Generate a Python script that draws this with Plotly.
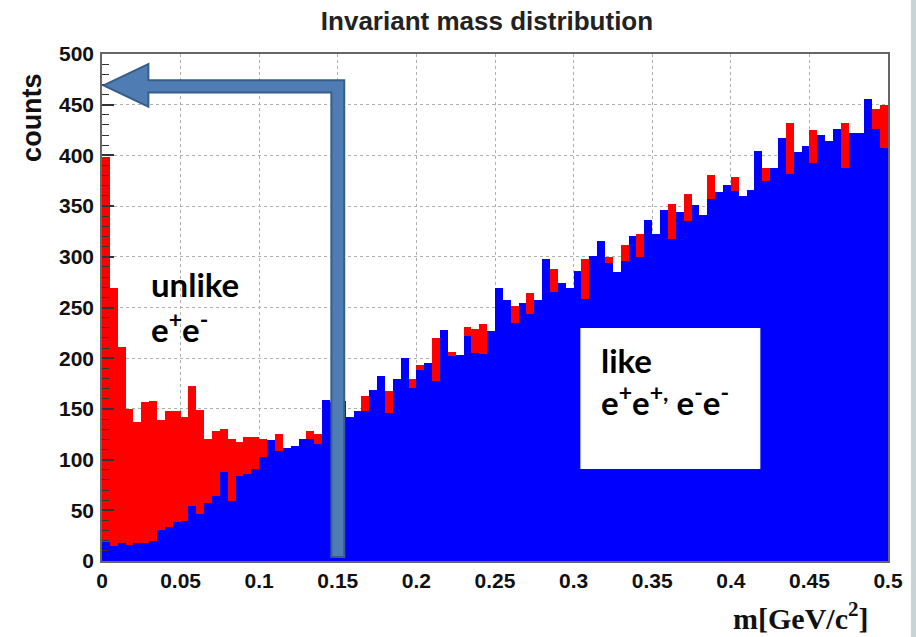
import numpy as np
import plotly.graph_objects as go

# Histogram binning: 100 bins of 0.005 GeV/c^2 between 0 and 0.5
bin_width = 0.005
n_bins = 100
bin_centers = np.arange(n_bins) * bin_width + bin_width / 2

# unlike-sign pairs (e+e-)
unlike_counts = [
    398, 269, 211, 150, 137, 157, 158, 139, 148, 148,
    142, 173, 149, 120, 128, 130, 120, 117, 122, 122,
    120, 112, 125, 105, 108, 114, 128, 125, 150, 146,
    150, 136, 140, 163, 160, 170, 168, 170, 185, 179,
    193, 188, 220, 215, 206, 195, 231, 229, 234, 220,
    255, 248, 251, 245, 264, 250, 285, 288, 265, 262,
    278, 298, 292, 305, 300, 278, 312, 310, 322, 325,
    315, 335, 352, 336, 362, 342, 332, 381, 355, 362,
    379, 352, 358, 392, 388, 378, 405, 432, 395, 398,
    425, 410, 405, 415, 432, 412, 414, 442, 446, 450,
]

# like-sign pairs (e+e+, e-e-)
like_counts = [
    19, 15, 18, 16, 18, 18, 20, 31, 34, 38,
    39, 54, 46, 57, 64, 88, 59, 84, 86, 91,
    103, 119, 108, 111, 113, 120, 120, 115, 159, 157,
    158, 142, 148, 148, 169, 182, 146, 179, 200, 171,
    188, 195, 178, 228, 202, 203, 222, 205, 204, 227,
    269, 257, 235, 254, 244, 257, 298, 265, 274, 269,
    286, 258, 301, 316, 294, 285, 296, 321, 300, 336,
    322, 346, 318, 344, 335, 351, 341, 357, 364, 371,
    365, 360, 366, 404, 375, 388, 417, 382, 403, 409,
    393, 420, 414, 426, 388, 422, 422, 456, 426, 407,
]

x_tick_vals = [0, 0.05, 0.1, 0.15, 0.2, 0.25, 0.3, 0.35, 0.4, 0.45, 0.5]
x_tick_text = ["0", "0.05", "0.1", "0.15", "0.2", "0.25", "0.3", "0.35", "0.4", "0.45", "0.5"]
y_tick_vals = [0, 50, 100, 150, 200, 250, 300, 350, 400, 450, 500]
y_tick_text = ["0", "50", "100", "150", "200", "250", "300", "350", "400", "450", "500"]

W, H = 916, 637
ML, MR, MT, MB = 102, 28, 54, 76

fig = go.Figure()
fig.add_trace(go.Bar(x=bin_centers, y=unlike_counts, width=bin_width,
                     marker=dict(color="#ff0000", line=dict(width=0)),
                     name="unlike"))
fig.add_trace(go.Bar(x=bin_centers, y=like_counts, width=bin_width,
                     marker=dict(color="#0000ff", line=dict(width=0)),
                     name="like"))

tick_font = dict(family="Liberation Sans, Arial, sans-serif", size=21, color="#111111")

fig.update_layout(
    width=W, height=H,
    margin=dict(l=ML, r=MR, t=MT, b=MB, pad=0),
    paper_bgcolor="white", plot_bgcolor="white",
    barmode="overlay", bargap=0, showlegend=False,
    title=dict(text="<b>Invariant mass distribution</b>",
               x=487 / W, xanchor="center", y=1 - 21 / H, yanchor="middle",
               font=dict(family="Liberation Sans, Arial, sans-serif", size=26, color="#222222")),
    xaxis=dict(range=[0, 0.5], tickvals=x_tick_vals, ticktext=[f"<b>{t}</b>" for t in x_tick_text],
               tickfont=tick_font, ticks="", showgrid=True, gridcolor="#b0b0b0",
               griddash="dot", gridwidth=1, showline=True, linecolor="#666666",
               linewidth=1.5, mirror=True, zeroline=False, fixedrange=True),
    yaxis=dict(range=[0, 500], tickvals=y_tick_vals, ticktext=[f"<b>{t}</b>" for t in y_tick_text],
               tickfont=tick_font, ticks="inside", ticklen=12, tickwidth=1.5,
               tickcolor="#333333",
               minor=dict(ticks="inside", ticklen=7, dtick=10, tickwidth=1.2,
                          tickcolor="#333333", showgrid=False),
               showgrid=True, gridcolor="#b0b0b0", griddash="dot", gridwidth=1,
               showline=True, linecolor="#666666", linewidth=1.5, mirror=True,
               zeroline=False, ticklabelstandoff=2, fixedrange=True),
)

# Label box for the like-sign histogram
fig.add_shape(type="rect", xref="x", yref="y", x0=0.3043, x1=0.4188, y0=90.7, y1=229.8,
              fillcolor="white", line=dict(width=0), layer="above")

# Arrow pointing from the 0.15 cut to the counts axis
arrow_path = ("M 0.001,469 L 0.0295,490 L 0.0295,474 L 0.1541,474 L 0.1541,4 "
              "L 0.1459,4 L 0.1459,462 L 0.0295,462 L 0.0295,448 Z")
fig.add_shape(type="path", xref="x", yref="y", path=arrow_path,
              fillcolor="#4f7db3", line=dict(color="#385d8a", width=2), layer="above")

# Slide edge on the right
fig.add_shape(type="rect", xref="paper", yref="paper",
              x0=(911 - ML) / (W - ML - MR), x1=1.06, y0=-0.3, y1=1.3,
              fillcolor="#c9d3d6", line=dict(width=0), layer="above")

label_font = dict(family="Lato, Open Sans, sans-serif", size=33, color="black")
fig.add_annotation(x=0.030, y=273, xref="x", yref="y", text="<b>unlike</b>",
                   showarrow=False, xanchor="left", yanchor="middle", font=label_font)
fig.add_annotation(x=0.030, y=231, xref="x", yref="y",
                   text="<b>e<sup>+</sup>e<sup>-</sup></b>",
                   showarrow=False, xanchor="left", yanchor="middle", font=label_font)
fig.add_annotation(x=0.316, y=198, xref="x", yref="y", text="<b>like</b>",
                   showarrow=False, xanchor="left", yanchor="middle", font=label_font)
fig.add_annotation(x=0.316, y=159, xref="x", yref="y",
                   text="<b>e<sup>+</sup>e<sup>+,</sup> e<sup>-</sup>e<sup>-</sup></b>",
                   showarrow=False, xanchor="left", yanchor="middle", font=label_font)

# Axis titles
fig.add_annotation(x=(32 - ML) / (W - ML - MR), y=437, xref="paper", yref="y",
                   text="<b>counts</b>", textangle=-90, showarrow=False,
                   xanchor="center", yanchor="middle",
                   font=dict(family="Liberation Sans, Arial, sans-serif", size=27, color="#111111"))
fig.add_annotation(x=(870 - ML) / (W - ML - MR), y=(561 - 616) / (H - MT - MB),
                   xref="paper", yref="paper",
                   text="<b>m[GeV/c<sup>2</sup>]</b>", showarrow=False,
                   xanchor="right", yanchor="middle",
                   font=dict(family="Liberation Serif, Times New Roman, serif", size=30, color="#111111"))

fig.write_html("out.html")
